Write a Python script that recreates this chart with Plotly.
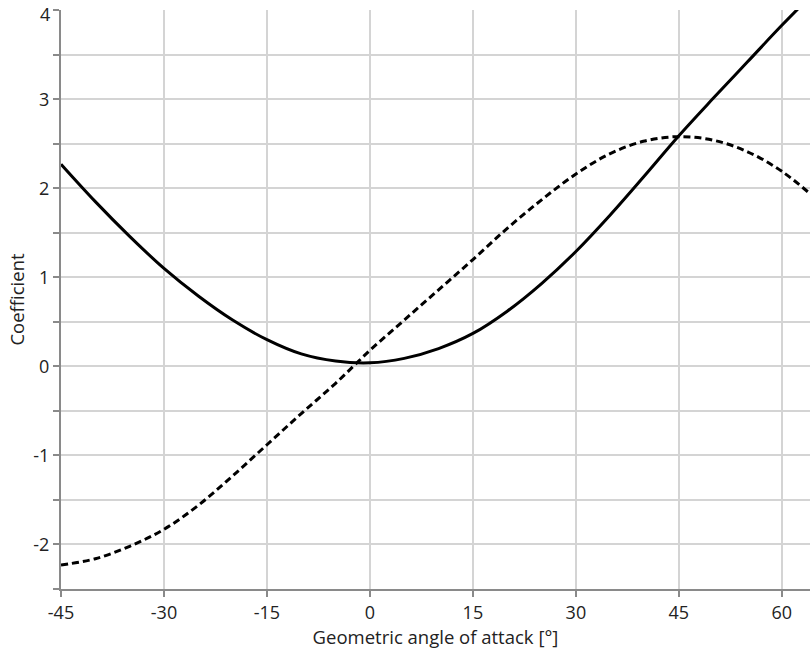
import plotly.graph_objects as go

# Geometric angle of attack [deg]
alpha = [-45, -40, -35, -30, -25, -20, -15, -10, -5, 0, 5, 10, 15, 20, 25, 30, 35, 40, 45, 50, 55, 60, 65]

# Solid curve
solid = [2.27, 1.85, 1.46, 1.10, 0.79, 0.52, 0.30, 0.14, 0.06, 0.04, 0.09, 0.20, 0.37, 0.62, 0.93, 1.29, 1.70, 2.14, 2.59, 3.01, 3.42, 3.83, 4.22]

# Dashed curve
dashed = [-2.23, -2.16, -2.02, -1.83, -1.56, -1.23, -0.88, -0.53, -0.19, 0.18, 0.52, 0.86, 1.20, 1.55, 1.87, 2.16, 2.39, 2.53, 2.58, 2.54, 2.41, 2.19, 1.88]

y_tickvals = [-2.5, -2, -1.5, -1, -0.5, 0, 0.5, 1, 1.5, 2, 2.5, 3, 3.5, 4]
y_ticktext = ["" if v % 1 else str(int(v)) for v in y_tickvals]
y_top = y_tickvals[-1]
y_top_label = y_ticktext[-1]
y_ticktext[-1] = ""  # top label drawn as an annotation, nudged down so it is not clipped
x_tickvals = [-45, -30, -15, 0, 15, 30, 45, 60]

fig = go.Figure()
fig.add_trace(go.Scatter(x=alpha, y=solid, mode="lines",
                         line=dict(color="black", width=3, shape="spline", smoothing=1.0),
                         showlegend=False))
fig.add_trace(go.Scatter(x=alpha, y=dashed, mode="lines",
                         line=dict(color="black", width=3, dash="7px,4px", shape="spline", smoothing=1.0),
                         showlegend=False))

fig.add_annotation(text=y_top_label, xref="paper", yref="y", x=0, y=y_top,
                   xanchor="right", yanchor="middle", xshift=-9, yshift=-4, showarrow=False,
                   font=dict(size=18, color="#222"))

font = "Open Sans, sans-serif"
fig.update_layout(
    width=810, height=661,
    margin=dict(l=61, r=0, t=10, b=72, autoexpand=False),
    paper_bgcolor="white", plot_bgcolor="white",
    font=dict(family=font, size=18, color="#222"),
    xaxis=dict(range=[-45, 64.1], tickvals=x_tickvals, ticktext=[str(v) for v in x_tickvals],
               showgrid=True, gridcolor="#d4d4d4", gridwidth=1.5, zeroline=False,
               showline=True, linecolor="#8a8a8a", linewidth=2,
               ticks="outside", ticklen=6, tickcolor="#8a8a8a", tickwidth=2,
               tickfont=dict(size=18), ticklabeloverflow="allow", automargin=False,
               title=dict(text="Geometric angle of attack [°]", font=dict(size=18.5), standoff=4)),
    yaxis=dict(range=[-2.5, 4.002], tickvals=y_tickvals, ticktext=y_ticktext,
               showgrid=True, gridcolor="#d4d4d4", gridwidth=1.5, zeroline=False,
               showline=True, linecolor="#8a8a8a", linewidth=2,
               ticks="outside", ticklen=6, tickcolor="#8a8a8a", tickwidth=2,
               tickfont=dict(size=18), ticklabeloverflow="allow", automargin=False,
               title=dict(text="Coefficient", font=dict(size=18.5), standoff=4)),
)

fig.write_html("out.html")
